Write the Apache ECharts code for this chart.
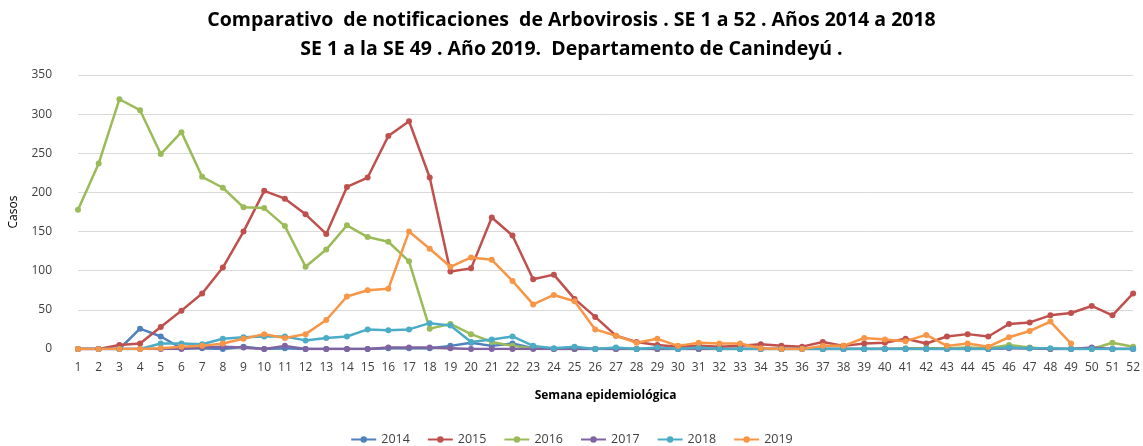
<!DOCTYPE html>
<html><head><meta charset="utf-8">
<script src="https://cdn.jsdelivr.net/npm/echarts@6/dist/echarts.min.js"></script>
<style>html,body{margin:0;padding:0;background:#fff}#c{width:1143px;height:446px}</style>
</head><body><div id="c"></div>
<script>
const weeks = Array.from({length:52},(_,i)=>String(i+1));
const yTicks = [0,50,100,150,200,250,300,350];
const s2014 = [0,0,0,26,16,1,1,0,3,0,1,0,0,0,0,1,1,1,4,8,4,7,1,0,0,0,0,0,0,0,0,0,0,0,0,0,0,0,0,0,0,0,0,0,0,2,1,0,0,0,0,0];
const s2015 = [0,0,5,7,28,49,71,104,150,202,192,172,147,207,219,272,291,219,99,103,168,145,89,95,64,41,17,9,5,3,4,3,4,6,4,3,9,4,7,8,13,7,16,19,16,32,34,43,46,55,43,71];
const s2016 = [178,237,319,305,249,277,220,206,181,180,157,105,127,158,143,137,112,26,32,19,9,4,1,0,0,0,0,0,0,0,0,0,0,0,0,0,0,0,0,0,1,1,1,2,1,5,2,0,0,0,8,3];
const s2017 = [0,0,0,0,0,0,2,3,2,0,4,0,0,0,0,2,2,2,1,0,0,0,0,0,0,0,0,0,0,0,0,0,0,0,0,0,0,0,0,0,0,0,0,0,0,1,1,0,0,2,0,0];
const s2018 = [0,0,0,0,7,7,6,13,15,16,16,11,14,16,25,24,25,33,30,9,12,16,4,1,3,0,2,0,2,0,2,0,0,0,0,0,0,0,0,0,0,0,0,0,0,2,1,1,0,0,0,0];
const s2019 = [0,0,0,0,1,3,4,7,13,19,14,19,37,67,75,77,150,128,105,117,114,87,57,69,61,25,17,8,13,4,8,7,7,1,0,0,4,4,14,12,10,18,4,7,3,15,23,35,7];
const names = ['2014','2015','2016','2017','2018','2019'];
const colors = ['#4F81BD','#C0504D','#9BBB59','#8064A2','#4BACC6','#F79646'];
const data = [s2014,s2015,s2016,s2017,s2018,s2019];
const chart = echarts.init(document.getElementById('c'));
const font = '"Open Sans", "Noto Sans", sans-serif';
chart.setOption({
  animation:false,
  textStyle:{fontFamily:font},
  title:{
    text:'Comparativo  de notificaciones  de Arbovirosis . SE 1 a 52 . Años 2014 a 2018\nSE 1 a la SE 49 . Año 2019.  Departamento de Canindeyú .',
    left:'center', top:1,
    textStyle:{fontFamily:font,fontSize:19.5,fontWeight:'bold',color:'#000',lineHeight:29,align:'center'}
  },
  grid:{left:74,right:8,top:75,bottom:97},
  legend:{
    top:428, left:'center', itemWidth:25, itemHeight:8, itemGap:17,
    textStyle:{fontFamily:font,fontSize:12.5,color:'#404040'},
    data:names
  },
  xAxis:{
    type:'category', data:weeks, boundaryGap:false,
    name:'Semana epidemiológica', nameLocation:'middle', nameGap:41,
    nameTextStyle:{fontFamily:font,fontSize:12,fontWeight:'bold',color:'#000'},
    axisLine:{lineStyle:{color:'#d9d9d9'}}, axisTick:{show:false},
    axisLabel:{color:'#404040',fontSize:12,margin:13,interval:0}
  },
  yAxis:{
    type:'value', min:0, max:350, interval:50,
    name:'Casos', nameLocation:'middle', nameGap:58,
    nameTextStyle:{fontFamily:font,fontSize:12,color:'#000'},
    axisLabel:{color:'#404040',fontSize:12,margin:26, formatter:v=>yTicks.includes(v)?String(v):''},
    splitLine:{lineStyle:{color:'#d9d9d9'}}, axisLine:{show:false}, axisTick:{show:false}
  },
  series: names.map((n,i)=>({
    name:n, type:'line', data:data[i], color:colors[i],
    symbol:'circle', symbolSize:6, lineStyle:{width:2.5,color:colors[i]},
    itemStyle:{color:colors[i]}
  }))
});
</script></body></html>
